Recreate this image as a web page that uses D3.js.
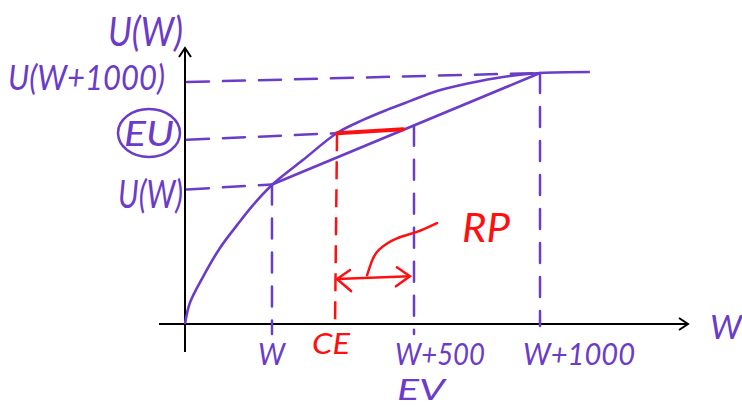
<!DOCTYPE html>
<html><head><meta charset="utf-8">
<script src="https://cdn.jsdelivr.net/npm/d3@7"></script>
<style>body{margin:0;background:#fff}svg{display:block}</style>
</head><body>
<script>
// ---- data (wealth in $, utility in arbitrary units) ----
const curveWealth  = [0, 18, 66, 129, 192, 251, 321, 435, 561, 657, 745, 830, 930, 1052, 1173, 1310, 1494];
const curveUtility = [0, 8.4, 18.7, 30.3, 39.4, 47.4, 55.4, 65.3, 76.1, 81.3, 85.3, 88.8, 92.8, 96, 98.4, 100, 100.4];
const W = 321, CE = 561, EV = 845, W1000 = 1310;
const U_W = 55.6, EU = 76, U_W1000 = 100;
const guideStartU = [53.6, 73.4, 96.4];          // where hand-drawn guides meet the y axis
const xTickLabels = ["W", "W+500", "W+1000"];
const xTickValues = [W, EV, W1000];
const yTickLabels = ["U(W)", "EU", "U(W+1000)"];
const rpArrow = [[561, 17.9], [830, 19]];
const rpPointer = [[672, 19.5], [690, 25.5], [708, 29.5], [782, 34.7], [856, 36.3], [930, 40.2]];

const purple = "#6a3cc8", red = "#ff1010";
const width = 742, height = 407;
const svg = d3.select("body").append("svg").attr("width", width).attr("height", height);

const x = d3.scaleLinear().domain([0, 1000]).range([185, 456]);
const y = d3.scaleLinear().domain([0, 100]).range([324, 73]);

const font = "Lato, 'Open Sans', sans-serif";

// axes
svg.append("line").attr("x1", 159).attr("x2", 688).attr("y1", y(0)).attr("y2", y(0))
  .attr("stroke", "#000").attr("stroke-width", 2);
svg.append("path").attr("d", `M679,${y(0)-6} L688,${y(0)} L679,${y(0)+6}`).attr("fill", "none").attr("stroke", "#000").attr("stroke-width", 2);
svg.append("line").attr("x1", x(0)).attr("x2", x(0)).attr("y1", 352).attr("y2", 48)
  .attr("stroke", "#000").attr("stroke-width", 2);
svg.append("path").attr("d", `M${x(0)-6},57 L${x(0)},48 L${x(0)+6},57`).attr("fill", "none").attr("stroke", "#000").attr("stroke-width", 2);

// horizontal guides
const hGuides = [[guideStartU[0], W, U_W], [guideStartU[1], CE, EU], [guideStartU[2], W1000, U_W1000]];
hGuides.forEach(g => {
  svg.append("line").attr("x1", x(0) + 2).attr("y1", y(g[0])).attr("x2", x(g[1])).attr("y2", y(g[2]))
    .attr("stroke", purple).attr("stroke-width", 2.5).attr("stroke-dasharray", "22,14").attr("stroke-linecap", "round");
});
// vertical guides
[[W, U_W, 334], [EV, 79, 334], [W1000, U_W1000, 326]].forEach(g => {
  svg.append("line").attr("x1", x(g[0])).attr("y1", y(g[1])).attr("x2", x(g[0])).attr("y2", g[2])
    .attr("stroke", purple).attr("stroke-width", 2.5).attr("stroke-dasharray", "20,14").attr("stroke-linecap", "round");
});
svg.append("line").attr("x1", x(CE)).attr("y1", y(EU)).attr("x2", x(CE) - 2).attr("y2", y(0))
  .attr("stroke", red).attr("stroke-width", 2.5).attr("stroke-dasharray", "18,10");

// utility curve
const line = d3.line().x(d => x(d[0])).y(d => y(d[1])).curve(d3.curveCatmullRom.alpha(0.5));
svg.append("path").datum(curveWealth.map((w, i) => [w, curveUtility[i]]))
  .attr("d", line).attr("fill", "none").attr("stroke", purple).attr("stroke-width", 2.6);
// chord
svg.append("line").attr("x1", x(W)).attr("y1", y(U_W)).attr("x2", x(W1000)).attr("y2", y(U_W1000))
  .attr("stroke", purple).attr("stroke-width", 2.6);

// red EU segment
svg.append("line").attr("x1", x(CE)).attr("y1", y(EU)).attr("x2", x(805)).attr("y2", y(77.6))
  .attr("stroke", red).attr("stroke-width", 4).attr("stroke-linecap", "round");

// RP double arrow
const [a0, a1] = rpArrow.map(p => [x(p[0]), y(p[1])]);
svg.append("line").attr("x1", a0[0]).attr("y1", a0[1]).attr("x2", a1[0]).attr("y2", a1[1]).attr("stroke", red).attr("stroke-width", 2.5);
svg.append("path").attr("d", `M${a0[0]+13},${a0[1]-9} L${a0[0]},${a0[1]} L${a0[0]+14},${a0[1]+12}`).attr("fill", "none").attr("stroke", red).attr("stroke-width", 2.5).attr("stroke-linecap", "round");
svg.append("path").attr("d", `M${a1[0]-13},${a1[1]-9} L${a1[0]},${a1[1]} L${a1[0]-14},${a1[1]+10}`).attr("fill", "none").attr("stroke", red).attr("stroke-width", 2.5).attr("stroke-linecap", "round");
svg.append("path").datum(rpPointer).attr("d", d3.line().x(d => x(d[0])).y(d => y(d[1])).curve(d3.curveBasis))
  .attr("fill", "none").attr("stroke", red).attr("stroke-width", 2.5).attr("stroke-linecap", "round");

// text helper
function label(t, x0, w, base, size, color) {
  svg.append("text").attr("x", x0).attr("y", base).text(t)
    .attr("font-family", font).attr("font-size", size).attr("font-style", "italic").attr("font-weight", 400)
    .attr("fill", color).attr("textLength", w).attr("lengthAdjust", "spacingAndGlyphs");
}
label("U(W)", 108, 75, 46, 40, purple);
label(yTickLabels[2], 8, 157, 90, 34, purple);
label(yTickLabels[1], 124, 50, 146, 34, purple);
svg.append("ellipse").attr("cx", 149).attr("cy", 133).attr("rx", 31).attr("ry", 24).attr("fill", "none").attr("stroke", purple).attr("stroke-width", 2.5);
label(yTickLabels[0], 118, 65, 208, 38, purple);

const xl = [[258, 27], [395, 90], [523, 112]];
xTickLabels.forEach((t, i) => label(t, xl[i][0], xl[i][1], 365, 30, purple));
label("CE", 312, 38, 354, 28, red);
label("EV", 397, 48, 400, 28, purple);
label("W", 710, 32, 339, 32, purple);
label("RP", 462, 48, 242, 40, red);
</script>
</body></html>
